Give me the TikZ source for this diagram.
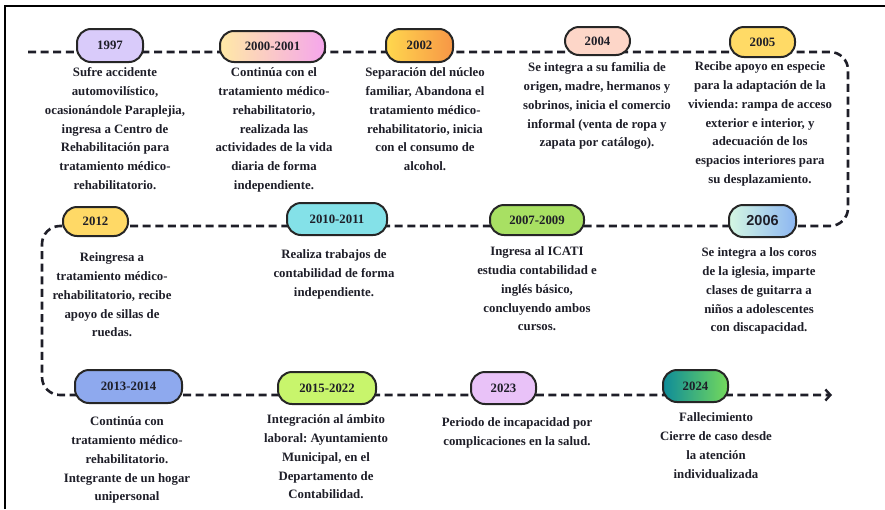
\documentclass[tikz,border=0pt]{standalone}
\usepackage{fontspec}
\setmainfont{Liberation Serif}
\newfontfamily\yearsans{Liberation Sans}
\usetikzlibrary{arrows.meta}
\frenchspacing
\definecolor{ink}{HTML}{1E1E28}
\definecolor{pillline}{HTML}{262626}
\definecolor{c1997}{HTML}{D9CBFA}
\definecolor{c2000a}{HTML}{FFE9A6}
\definecolor{c2000b}{HTML}{F5A6EC}
\definecolor{c2002a}{HTML}{FFD84E}
\definecolor{c2002b}{HTML}{F79646}
\definecolor{c2004}{HTML}{FDD6C8}
\definecolor{c2005}{HTML}{FFDA66}
\definecolor{c2012}{HTML}{FFD966}
\definecolor{c2010}{HTML}{84E1E8}
\definecolor{c2007}{HTML}{A8E063}
\definecolor{c2006a}{HTML}{D4F7E2}
\definecolor{c2006b}{HTML}{8DB6F2}
\definecolor{c2013}{HTML}{8EA9EE}
\definecolor{c2015}{HTML}{C8F56C}
\definecolor{c2023}{HTML}{E9C2F8}
\definecolor{c2024a}{HTML}{0E8C99}
\definecolor{c2024b}{HTML}{74D95C}
\newcommand\fstrut{\rule{0pt}{10pt}}
\begin{document}
\begin{tikzpicture}[x=1pt,y=-1pt,
  pill/.style={draw=pillline, line width=2pt, rounded corners=14pt, inner sep=0pt,
    font=\fontsize{12.8}{14}\selectfont\bfseries, text=ink},
  desc/.style={align=center, anchor=north, inner sep=0pt,
    font=\fontsize{12.8}{18.8}\selectfont\bfseries, text=ink},
  timeline/.style={draw=ink, line width=2.6pt, dash pattern=on 8pt off 4.6pt,
    rounded corners=18pt}]
\useasboundingbox (0,0) rectangle (885,509);
% frame
\draw[line width=2pt, black] (5,509) -- (5,6) -- (885,6);
% timeline path
\coordinate (tstart) at (28,52);
\coordinate (tend) at (832,395);
\draw[timeline, -{Straight Barb[length=5pt,width=11pt,line width=2.4pt]}]
  (tstart) -- (848,52) -- (848,226) -- (42,226) -- (42,395) -- (tend);
% row 1 pills
\node[pill, fill=c1997, minimum width=66pt, minimum height=33pt] (p1997) at (110,45.5) {1997};
\node[pill, left color=c2000a, right color=c2000b, minimum width=105pt, minimum height=31pt] (p2000) at (272.5,46.5) {2000-2001};
\node[pill, left color=c2002a, right color=c2002b, minimum width=67pt, minimum height=33pt] (p2002) at (419.5,45.5) {2002};
\node[pill, fill=c2004, minimum width=65pt, minimum height=28pt] (p2004) at (597.5,41) {2004};
\node[pill, fill=c2005, minimum width=65pt, minimum height=30pt] (p2005) at (762.5,42) {2005};
% row 2 pills
\node[pill, fill=c2012, minimum width=65pt, minimum height=29pt] (p2012) at (95.5,221.5) {2012};
\node[pill, fill=c2010, minimum width=100pt, minimum height=32pt] (p2010) at (337,219) {2010-2011};
\node[pill, fill=c2007, minimum width=94pt, minimum height=30pt] (p2007) at (537,220) {2007-2009};
\node[pill, left color=c2006a, right color=c2006b, minimum width=67pt, minimum height=32pt,
  font=\yearsans\fontsize{14.5}{16}\selectfont\bfseries] (p2006) at (762.5,221) {2006};
% row 3 pills
\node[pill, fill=c2013, minimum width=107pt, minimum height=33pt] (p2013) at (128.5,386.5) {2013-2014};
\node[pill, fill=c2015, minimum width=98pt, minimum height=32pt] (p2015) at (327,388) {2015-2022};
\node[pill, fill=c2023, minimum width=65pt, minimum height=32pt] (p2023) at (503.5,388) {2023};
\node[pill, left color=c2024a, right color=c2024b, minimum width=65pt, minimum height=32pt] (p2024) at (695.5,386) {2024};
% row 1 texts
\node[desc] (t1997) at (115,66.5) {\fstrut Sufre accidente\\automovilístico,\\ocasionándole Paraplejia,\\ingresa a Centro de\\Rehabilitación para\\tratamiento médico-\\rehabilitatorio.};
\node[desc] (t2000) at (274,66.5) {\fstrut Continúa con el\\tratamiento médico-\\rehabilitatorio,\\realizada las\\actividades de la vida\\diaria de forma\\independiente.};
\node[desc] (t2002) at (425,66.5) {\fstrut Separación del núcleo\\familiar, Abandona el\\tratamiento médico-\\rehabilitatorio, inicia\\con el consumo de\\alcohol.};
\node[desc] (t2004) at (597,61.5) {\fstrut Se integra a su familia de\\origen, madre, hermanos y\\sobrinos, inicia el comercio\\informal (venta de ropa y\\zapata por catálogo).};
\node[desc] (t2005) at (760,60.5) {\fstrut Recibe apoyo en especie\\para la adaptación de la\\vivienda: rampa de acceso\\exterior e interior, y\\adecuación de los\\espacios interiores para\\su desplazamiento.};
% row 2 texts
\node[desc] (t2012) at (112,251.5) {\fstrut Reingresa a\\tratamiento médico-\\rehabilitatorio, recibe\\apoyo de sillas de\\ruedas.};
\node[desc] (t2010) at (334,248.5) {\fstrut Realiza trabajos de\\contabilidad de forma\\independiente.};
\node[desc] (t2007) at (537,245.5) {\fstrut Ingresa al ICATI\\estudia contabilidad e\\inglés básico,\\concluyendo ambos\\cursos.};
\node[desc] (t2006) at (759,246.5) {\fstrut Se integra a los coros\\de la iglesia, imparte\\clases de guitarra a\\niños a adolescentes\\con discapacidad.};
% row 3 texts
\node[desc] (t2013) at (127,415.5) {\fstrut Continúa con\\tratamiento médico-\\rehabilitatorio.\\Integrante de un hogar\\unipersonal};
\node[desc] (t2015) at (326,413.5) {\fstrut Integración al ámbito\\laboral: Ayuntamiento\\Municipal, en el\\Departamento de\\Contabilidad.};
\node[desc] (t2023) at (517,416.5) {\fstrut Periodo de incapacidad por\\complicaciones en la salud.};
\node[desc] (t2024) at (716,411.5) {\fstrut Fallecimiento\\Cierre de caso desde\\la atención\\individualizada};
\end{tikzpicture}
\end{document}
